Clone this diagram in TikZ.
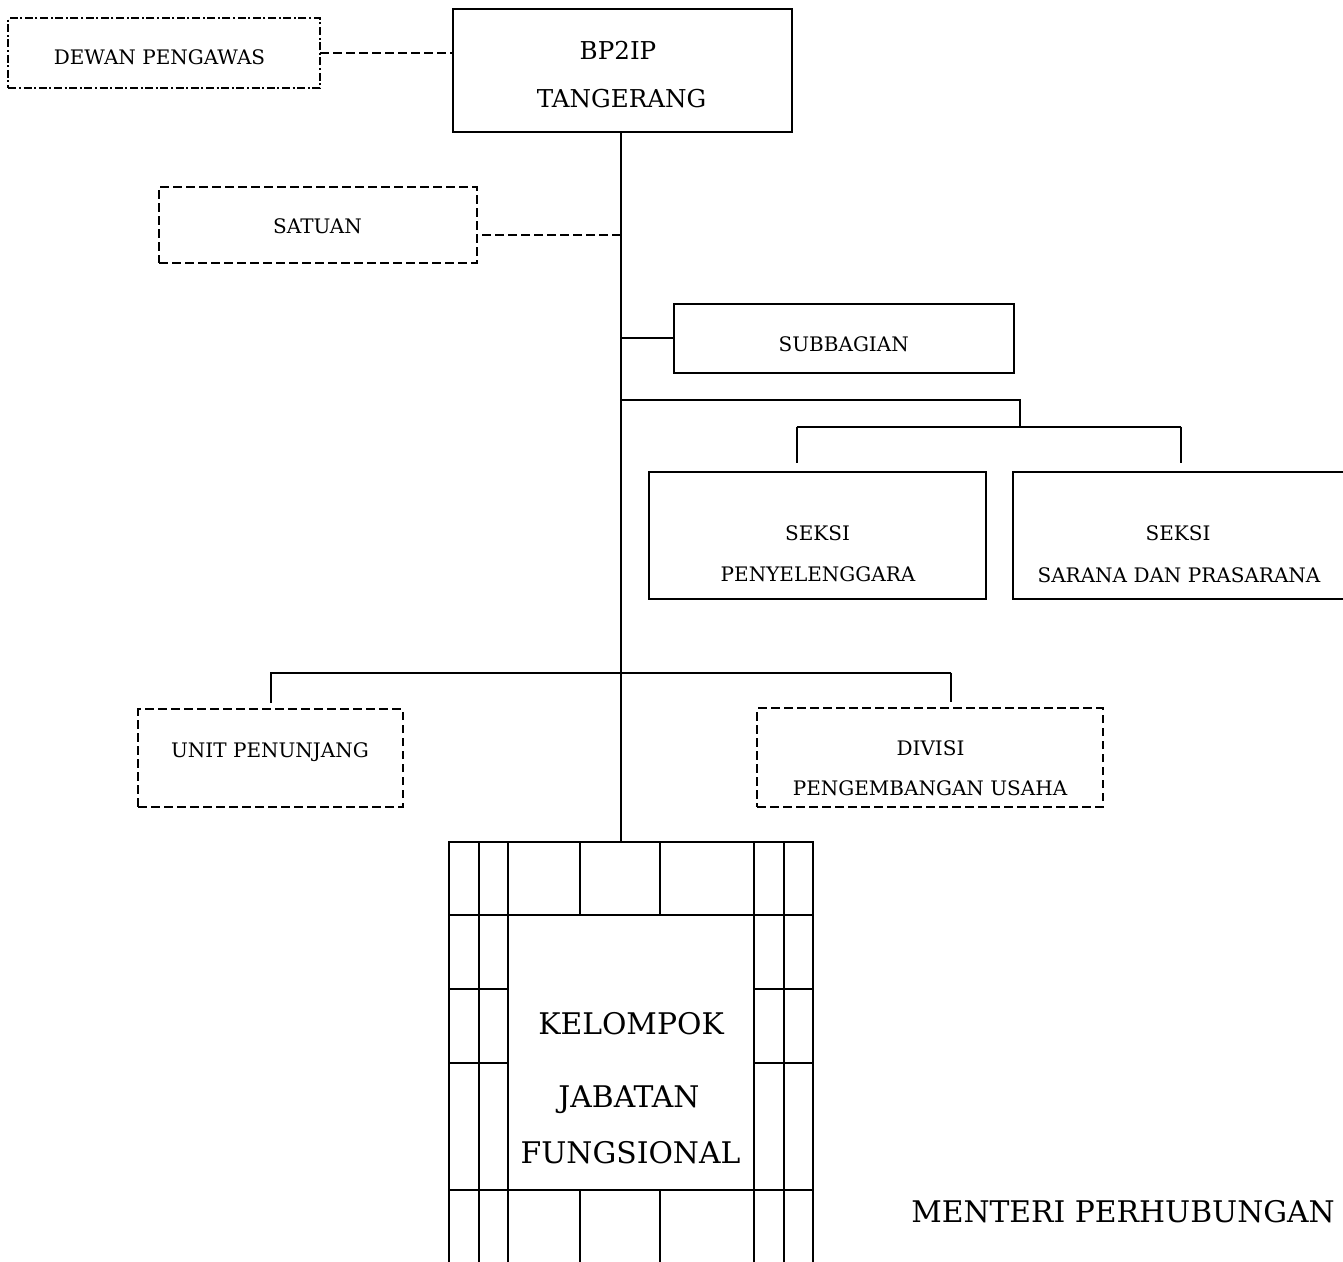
\documentclass[tikz,border=0pt]{standalone}
\usepackage{fontspec}
\setmainfont{DejaVu Serif}
\begin{document}
\begin{tikzpicture}[x=0.5pt,y=-0.5pt,
  line width=1pt,
  box/.style={draw, rectangle, inner sep=0pt, outer sep=0pt},
  dbox/.style={box, dash pattern=on 4.3pt off 2.2pt},
  ddbox/.style={box, dash pattern=on 4pt off 1.3pt on 1pt off 1.3pt},
  dline/.style={dash pattern=on 4.3pt off 2.2pt},
  sm/.style={anchor=base, inner sep=0pt, font=\fontsize{10}{12}\selectfont},
  md/.style={anchor=base, inner sep=0pt, font=\fontsize{12.3}{14}\selectfont},
  lg/.style={anchor=base, inner sep=0pt, font=\fontsize{14.9}{18}\selectfont}
]
\useasboundingbox (0,0) rectangle (1343,1262);

% boxes
\node[ddbox, minimum width=155.8pt, minimum height=35pt] (dewan) at (164.2,53.3) {};
\node[box, minimum width=169.2pt, minimum height=61.2pt] (bp2ip) at (622.5,70.5) {};
\node[dbox, minimum width=158.7pt, minimum height=38.3pt] (satuan) at (318,225) {};
\node[box, minimum width=170pt, minimum height=34.3pt] (sub) at (844,338.4) {};
\node[box, minimum width=168.5pt, minimum height=63.4pt] (sp) at (817.5,535.1) {};
\node[box, minimum width=168.3pt, minimum height=63.4pt] (ss) at (1181.7,535.1) {};
\node[dbox, minimum width=132.2pt, minimum height=48.7pt] (unit) at (270.5,758) {};
\node[dbox, minimum width=172.7pt, minimum height=49.2pt] (divisi) at (930,757.5) {};
\node[box, minimum width=182pt, minimum height=229pt] (frame) at (631,1071) {};
\node[box, minimum width=123pt, minimum height=137.5pt] (kjf) at (631,1052.5) {};

% texts
\node[sm] (t-dewan) at (159.5,65) {DEWAN PENGAWAS};
\node[md] (t-bp1) at (618,60) {BP2IP};
\node[md] (t-bp2) at (621.5,108) {TANGERANG};
\node[sm] (t-sat) at (317.5,234) {SATUAN};
\node[sm] (t-sub) at (843.7,351) {SUBBAGIAN};
\node[sm] (t-sp1) at (817.5,540) {SEKSI};
\node[sm] (t-sp2) at (818,581) {PENYELENGGARA};
\node[sm] (t-ss1) at (1178,540) {SEKSI};
\node[sm] (t-ss2) at (1179,582) {SARANA DAN PRASARANA};
\node[sm] (t-unit) at (270,757) {UNIT PENUNJANG};
\node[sm] (t-div1) at (930.5,755) {DIVISI};
\node[sm] (t-div2) at (930,795) {PENGEMBANGAN USAHA};
\node[lg] (t-k1) at (631,1034) {KELOMPOK};
\node[lg] (t-k2) at (629,1107) {JABATAN};
\node[lg] (t-k3) at (630.5,1163) {FUNGSIONAL};
\node[lg] (t-men) at (1123,1222) {MENTERI PERHUBUNGAN};

% grid around the functional group
\foreach \x in {479,508,754,784} \draw (\x,842) -- (\x,1300);
\foreach \x in {580,660} {\draw (\x,842) -- (\x,915); \draw (\x,1190) -- (\x,1300);}
\draw (449,915) -- (813,915);
\draw (449,1190) -- (813,1190);
\foreach \y in {989.3,1063.3} {\draw (449,\y) -- (508,\y); \draw (754,\y) -- (813,\y);}

% connectors
\coordinate (trunk) at (621,0);
\draw (bp2ip.south -| trunk) -- (frame.north -| trunk);
\draw[dline] (dewan.east) -- (dewan.east -| bp2ip.west);
\draw[dline] ([yshift=-5pt]satuan.east -| trunk) -- ([yshift=-5pt]satuan.east);
\draw (sub.west) -- (sub.west -| trunk);
\coordinate (j1) at (621,400);
\coordinate (j2) at (1020,426.7);
\coordinate (d1) at (796.7,426.7);
\coordinate (d2) at (1181,426.7);
\draw (j1) -| (j2);
\draw (d1) -- (d2);
\draw[shorten >=4.5pt] (d1) -- (d1 |- sp.north);
\draw[shorten >=4.5pt] (d2) -- (d2 |- ss.north);
\coordinate (j3) at (621,672.5);
\coordinate (j4) at (950.7,672.5);
\draw[shorten >=3pt] (j3) -| (unit.north);
\draw (j3) -- (j4);
\draw[shorten >=3pt] (j4) -- (j4 |- divisi.north);
\end{tikzpicture}
\end{document}
